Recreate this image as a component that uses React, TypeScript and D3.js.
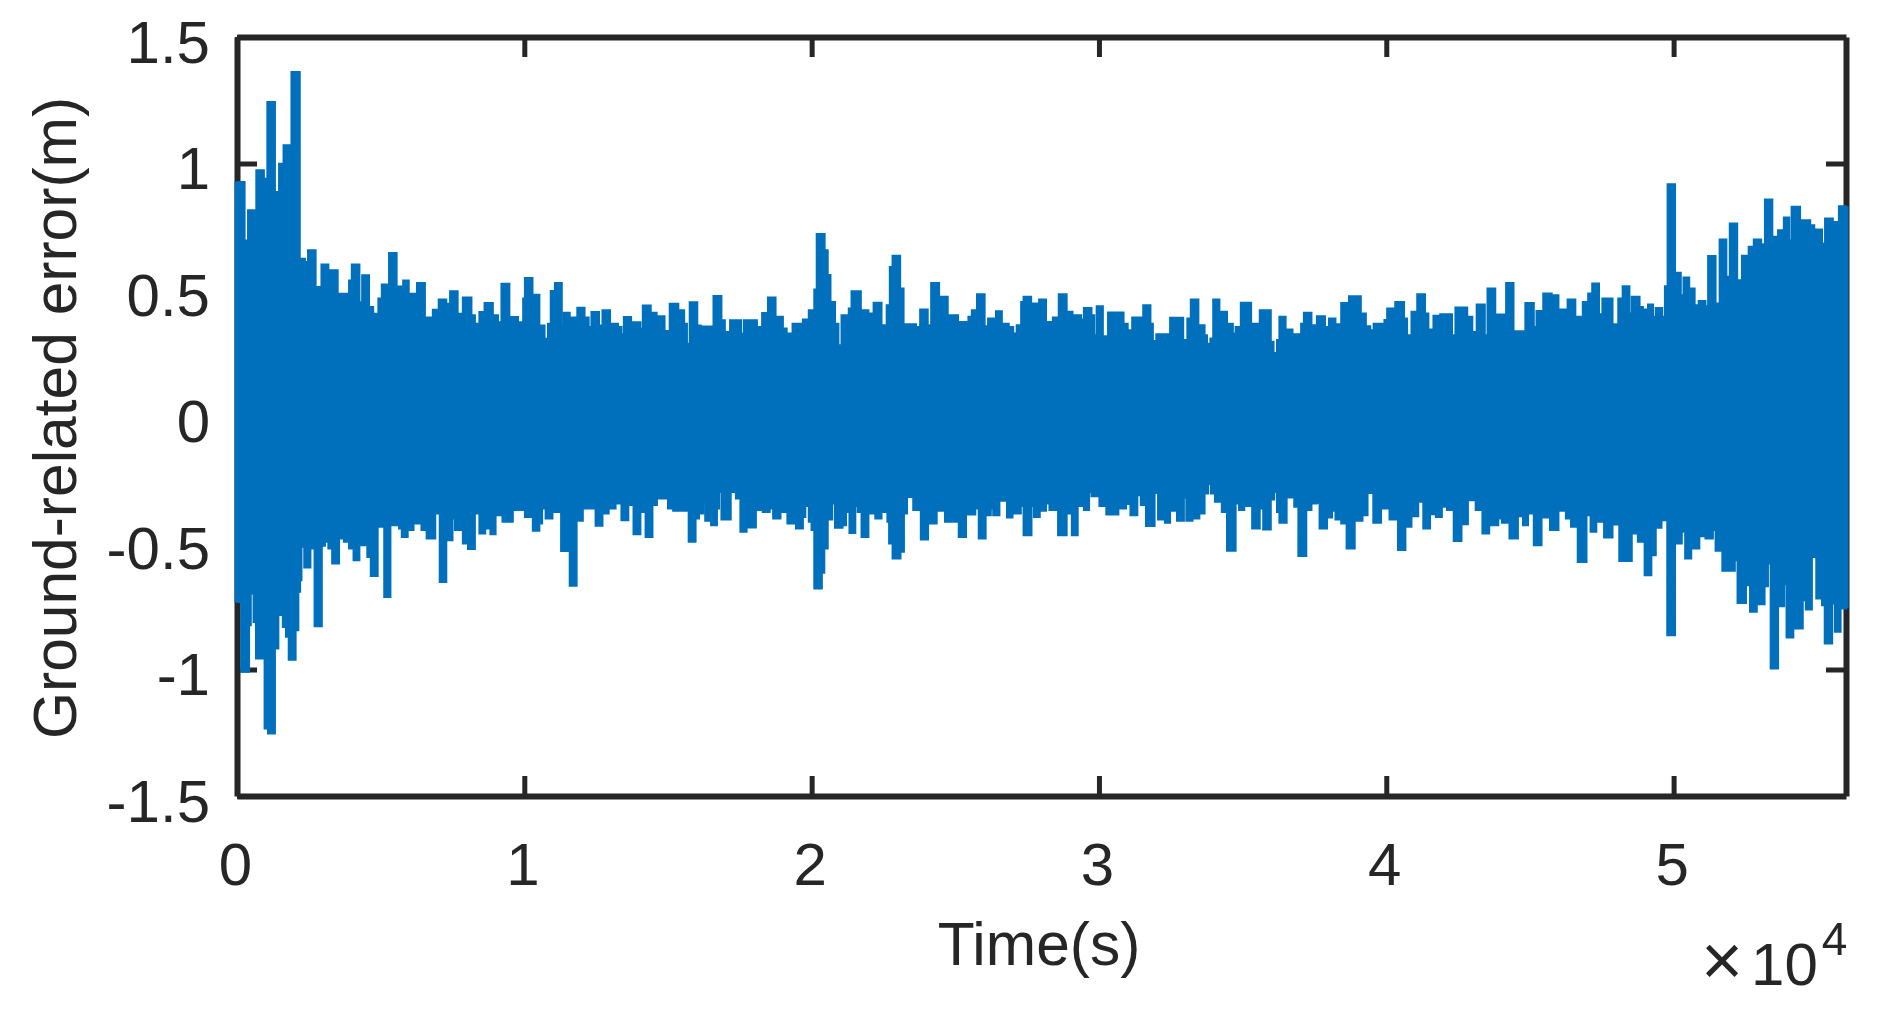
import * as d3 from 'd3';
import { useEffect, useRef } from 'react';

type Sample = [number, number];

const xTicks = [0, 10000, 20000, 30000, 40000, 50000];
const yTicks = [-1.5, -1, -0.5, 0, 0.5, 1, 1.5];
const timeEnd = 56000;

// outer edge of the signal, [time (s), error (m)]
const upperEarly: Sample[] = [
  [0, 0.927], [264, 0.696], [384, 0.815], [672, 0.973], [936, 0.94], [1056, 1.243], [1320, 0.887], [1464, 0.999],
  [1620, 1.072], [1896, 1.362], [2184, 0.624], [2364, 0.611], [2472, 0.657], [2736, 0.512], [2940, 0.601], [3180, 0.578],
  [3504, 0.485], [3900, 0.538], [3996, 0.601], [4260, 0.452], [4356, 0.558], [4596, 0.433], [4740, 0.406], [4920, 0.466],
  [5040, 0.522], [5292, 0.646], [5556, 0.514], [5784, 0.538], [5976, 0.485], [6264, 0.528], [6540, 0.391], [6816, 0.422],
  [7020, 0.462], [7284, 0.446], [7416, 0.495], [7680, 0.406], [7860, 0.47], [8160, 0.4], [8280, 0.367], [8436, 0.413],
  [8616, 0.449], [8904, 0.4], [9084, 0.373], [9204, 0.525], [9480, 0.393], [9780, 0.373], [9960, 0.466], [10020, 0.547],
  [10284, 0.481], [10524, 0.36], [10704, 0.307], [10824, 0.367], [10920, 0.496], [11064, 0.528], [11304, 0.354], [11376, 0.41],
  [11580, 0.391], [11844, 0.43], [12096, 0.391], [12240, 0.354], [12336, 0.413], [12600, 0.36], [12720, 0.42], [12984, 0.367],
  [13260, 0.354], [13380, 0.325], [13464, 0.393], [13716, 0.373], [14040, 0.347], [14124, 0.439], [14400, 0.41], [14604, 0.396],
  [14880, 0.338], [15060, 0.446], [15360, 0.42], [15564, 0.367], [15660, 0.288], [15756, 0.452], [16020, 0.36], [16140, 0.314],
  [16200, 0.356], [16584, 0.476], [16860, 0.38], [16980, 0.334], [17160, 0.38], [17544, 0.327], [17640, 0.38], [18096, 0.354],
  [18276, 0.409], [18480, 0.47], [18744, 0.391],
];

const upperMiddle: Sample[] = [
  [18800, 0.394], [19000, 0.348], [19132, 0.328], [19336, 0.367], [19696, 0.383], [19900, 0.42], [20092, 0.502], [20176, 0.721],
  [20452, 0.657], [20560, 0.559], [20656, 0.453], [20812, 0.367], [20932, 0.282], [21040, 0.4], [21292, 0.427], [21388, 0.495],
  [21712, 0.42], [21976, 0.407], [22156, 0.45], [22432, 0.361], [22612, 0.44], [22720, 0.591], [22816, 0.635], [23080, 0.506],
  [23200, 0.365], [23632, 0.354], [23776, 0.423], [24040, 0.361], [24160, 0.528], [24436, 0.473], [24736, 0.315], [24796, 0.4],
  [25096, 0.374], [25456, 0.394], [25576, 0.42], [25756, 0.483], [26020, 0.357], [26140, 0.387], [26416, 0.416], [26620, 0.367],
  [26860, 0.354], [27016, 0.328], [27136, 0.361], [27292, 0.453], [27376, 0.473], [27640, 0.447], [27916, 0.462], [28156, 0.374],
  [28396, 0.391], [28600, 0.483], [28876, 0.414], [29080, 0.4], [29380, 0.383], [29476, 0.429], [29740, 0.4], [29836, 0.321],
  [29920, 0.436], [30136, 0.317], [30316, 0.411], [30856, 0.367], [31000, 0.341], [31156, 0.391], [31540, 0.44], [31792, 0.367],
  [31876, 0.298], [31996, 0.325], [32476, 0.39], [32932, 0.302], [33076, 0.387], [33196, 0.462], [33460, 0.361], [33676, 0.321],
  [33760, 0.288], [33880, 0.308], [33976, 0.462], [34192, 0.414], [34456, 0.367], [34660, 0.328], [34756, 0.354], [34936, 0.45],
  [35296, 0.367], [35596, 0.42], [35980, 0.295], [36076, 0.251], [36196, 0.302], [36280, 0.394], [36496, 0.344], [36736, 0.325],
  [37036, 0.367], [37132, 0.41], [37396, 0.361],
];

const upperLate: Sample[] = [
  [37584, 0.396], [37866, 0.354], [38007, 0.387], [38231, 0.365], [38431, 0.449], [38701, 0.475], [39113, 0.407], [39289, 0.357],
  [39442, 0.341], [39560, 0.367], [39936, 0.381], [40030, 0.427], [40312, 0.453], [40618, 0.387], [40724, 0.321], [40877, 0.414],
  [41077, 0.483], [41347, 0.407], [41465, 0.344], [41641, 0.398], [41876, 0.404], [42288, 0.321], [42406, 0.431], [42817, 0.394],
  [42994, 0.334], [43146, 0.443], [43429, 0.321], [43523, 0.506], [43793, 0.403], [44170, 0.528], [44428, 0.337], [44840, 0.449],
  [45134, 0.354], [45228, 0.417], [45463, 0.486], [45757, 0.479], [45992, 0.423], [46310, 0.462], [46580, 0.394], [46839, 0.453],
  [47027, 0.486], [47168, 0.526], [47404, 0.404], [47521, 0.466], [47874, 0.365], [48074, 0.466], [48227, 0.515], [48462, 0.407],
  [48544, 0.473], [48815, 0.433], [48932, 0.423], [49108, 0.443], [49285, 0.394], [49379, 0.429], [49603, 0.394], [49697, 0.515],
  [49791, 0.918], [50050, 0.568], [50250, 0.479], [50344, 0.549], [50544, 0.506], [50732, 0.44], [50873, 0.457], [51108, 0.436],
  [51202, 0.634], [51461, 0.447], [51602, 0.7], [51837, 0.552], [51955, 0.763], [52213, 0.539], [52378, 0.635], [52613, 0.671],
  [52790, 0.7], [53048, 0.681], [53178, 0.858], [53436, 0.71], [53636, 0.736], [53836, 0.787], [54024, 0.697], [54107, 0.829],
  [54401, 0.776], [54754, 0.756], [54895, 0.69], [54965, 0.739], [55165, 0.684], [55271, 0.783], [55542, 0.769], [55753, 0.831],
  [56000, 0.831],
];

const lowerEarly: Sample[] = [
  [0, -0.733], [144, -1.009], [420, -0.825], [480, -0.7], [576, -0.812], [660, -0.957], [900, -0.845], [960, -1.233],
  [1080, -1.253], [1320, -0.917], [1440, -0.785], [1596, -0.832], [1704, -0.871], [1800, -0.961], [2040, -0.845], [2136, -0.693],
  [2196, -0.647], [2244, -0.515], [2340, -0.597], [2556, -0.522], [2700, -0.829], [2952, -0.511], [3060, -0.495], [3180, -0.522],
  [3312, -0.581], [3552, -0.482], [3720, -0.495], [3900, -0.522], [4056, -0.568], [4260, -0.449], [4320, -0.509], [4536, -0.555],
  [4656, -0.63], [4896, -0.436], [5124, -0.713], [5340, -0.43], [5640, -0.443], [5736, -0.476], [5940, -0.449], [6144, -0.423],
  [6420, -0.449], [6600, -0.482], [6900, -0.383], [7056, -0.654], [7284, -0.489], [7500, -0.403], [7584, -0.449], [7860, -0.502],
  [8040, -0.524], [8280, -0.383], [8436, -0.462], [8640, -0.443], [8820, -0.465], [9000, -0.39], [9240, -0.416], [9600, -0.37],
  [10020, -0.397], [10296, -0.452], [10524, -0.423], [10620, -0.364], [10740, -0.403], [10980, -0.377], [11280, -0.532], [11580, -0.669],
  [11820, -0.412], [12036, -0.364], [12480, -0.432], [12720, -0.383], [12936, -0.364], [13176, -0.344], [13380, -0.41], [13620, -0.35],
  [13740, -0.331], [13800, -0.465], [14040, -0.377], [14220, -0.476], [14460, -0.35], [14616, -0.324], [15000, -0.364], [15180, -0.373],
  [15720, -0.495], [15960, -0.403], [16080, -0.383], [16224, -0.337], [16296, -0.412], [16500, -0.43], [16704, -0.364], [16776, -0.298],
  [16860, -0.407], [17184, -0.298], [17364, -0.324], [17520, -0.456], [17736, -0.304], [17784, -0.439], [18060, -0.37], [18300, -0.377],
  [18540, -0.364], [18660, -0.403],
];

const lowerMiddle: Sample[] = [
  [18800, -0.403], [18916, -0.377], [19156, -0.423], [19456, -0.443], [19696, -0.397], [19780, -0.354], [19900, -0.416], [19996, -0.449],
  [20092, -0.68], [20356, -0.618], [20440, -0.522], [20560, -0.407], [20716, -0.344], [20812, -0.44], [21076, -0.43], [21196, -0.377],
  [21316, -0.46], [21520, -0.354], [21604, -0.377], [21736, -0.476], [21976, -0.383], [22216, -0.403], [22432, -0.377], [22636, -0.416],
  [22696, -0.502], [22816, -0.561], [23092, -0.535], [23212, -0.383], [23320, -0.318], [23536, -0.37], [23800, -0.486], [24052, -0.423],
  [24352, -0.373], [24640, -0.416], [25120, -0.476], [25372, -0.387], [25696, -0.364], [25816, -0.482], [26056, -0.39], [26236, -0.364],
  [26320, -0.39], [26536, -0.333], [26800, -0.399], [26992, -0.383], [27280, -0.354], [27376, -0.469], [27652, -0.354], [27736, -0.397],
  [27940, -0.373], [28156, -0.344], [28276, -0.37], [28576, -0.469], [28876, -0.383], [29056, -0.469], [29260, -0.354], [29476, -0.37],
  [29656, -0.298], [29740, -0.315], [30016, -0.354], [30256, -0.387], [30676, -0.364], [30940, -0.346], [31096, -0.39], [31336, -0.311],
  [31456, -0.35], [31636, -0.433], [31936, -0.302], [32056, -0.407], [32296, -0.42], [32476, -0.373], [32716, -0.412], [32956, -0.32],
  [33040, -0.412], [33256, -0.403], [33496, -0.383], [33676, -0.304], [33796, -0.267], [33892, -0.304], [34036, -0.337], [34276, -0.377],
  [34456, -0.531], [34756, -0.344], [34876, -0.37], [35056, -0.354], [35332, -0.443], [35596, -0.364], [35716, -0.447], [35980, -0.328],
  [36100, -0.298], [36196, -0.377], [36280, -0.42], [36532, -0.32], [36796, -0.357], [36940, -0.551], [37216, -0.37], [37396, -0.344],
];

const lowerLate: Sample[] = [
  [37584, -0.341], [37678, -0.443], [37937, -0.399], [38113, -0.373], [38231, -0.407], [38431, -0.423], [38619, -0.522], [38901, -0.412],
  [39172, -0.39], [39348, -0.302], [39548, -0.42], [39818, -0.364], [40112, -0.407], [40406, -0.528], [40665, -0.436], [40877, -0.394],
  [41112, -0.337], [41288, -0.443], [41524, -0.386], [41724, -0.397], [41935, -0.357], [42112, -0.37], [42347, -0.492], [42617, -0.426],
  [42841, -0.331], [43111, -0.37], [43346, -0.462], [43582, -0.43], [43899, -0.403], [44028, -0.42], [44287, -0.482], [44581, -0.394],
  [44758, -0.43], [44934, -0.383], [45134, -0.509], [45404, -0.399], [45698, -0.449], [45992, -0.373], [46251, -0.403], [46428, -0.436],
  [46663, -0.575], [46968, -0.39], [47110, -0.456], [47310, -0.416], [47580, -0.478], [47874, -0.427], [48109, -0.571], [48544, -0.462],
  [48756, -0.495], [48991, -0.627], [49226, -0.548], [49379, -0.44], [49579, -0.41], [49779, -0.865], [50050, -0.502], [50285, -0.456],
  [50402, -0.561], [50614, -0.522], [50896, -0.473], [51108, -0.482], [51367, -0.449], [51461, -0.531], [51696, -0.61], [52131, -0.568],
  [52225, -0.737], [52519, -0.667], [52660, -0.772], [52895, -0.742], [53166, -0.671], [53284, -0.581], [53378, -0.996], [53636, -0.75],
  [53848, -0.663], [53931, -0.874], [54166, -0.838], [54495, -0.726], [54601, -0.763], [54813, -0.555], [54965, -0.719], [55165, -0.746],
  [55259, -0.897], [55518, -0.739], [55612, -0.851], [55812, -0.759], [56000, -0.759],
];

const upperEnvelope = [...upperEarly, ...upperMiddle, ...upperLate];
const lowerEnvelope = [...lowerEarly, ...lowerMiddle, ...lowerLate];

const blue = '#0070BC';
const ink = '#262626';
const font = '"Liberation Sans", Arial, sans-serif';

const margin = { top: 37, right: 39, bottom: 217, left: 237 };
const width = 1885;
const height = 1013;

export default function App() {
  const ref = useRef<SVGSVGElement>(null);

  useEffect(() => {
    const root = d3.select(ref.current);
    root.selectAll('*').remove();

    // the reference is a soft, upscaled raster
    root
      .append('filter')
      .attr('id', 'soft')
      .attr('x', 0)
      .attr('y', 0)
      .attr('width', '100%')
      .attr('height', '100%')
      .attr('filterUnits', 'userSpaceOnUse')
      .append('feGaussianBlur')
      .attr('stdDeviation', 0.7);

    const svg = root.append('g').attr('filter', 'url(#soft)');

    const x = d3.scaleLinear([0, timeEnd], [margin.left, width - margin.right]);
    const y = d3.scaleLinear([-1.5, 1.5], [height - margin.bottom, margin.top]);

    const styleAxis = (g: any) => {
      g.select('.domain').attr('stroke', ink).attr('stroke-width', 6);
      g.selectAll('.tick line').attr('stroke', ink).attr('stroke-width', 5);
      g.selectAll('text').attr('fill', ink).attr('font-size', 60).attr('font-family', font);
    };

    svg
      .append('g')
      .attr('transform', `translate(0, ${y(-1.5)})`)
      .call(
        d3
          .axisBottom(x)
          .tickValues(xTicks)
          .tickSizeInner(-20)
          .tickSizeOuter(0)
          .tickPadding(46)
          .tickFormat((d) => `${+d / 10000}`)
      )
      .call(styleAxis)
      .call((g) => g.selectAll('text').attr('dy', '0.71em').attr('dx', -2));

    svg
      .append('g')
      .attr('transform', `translate(0, ${y(1.5)})`)
      .call(d3.axisTop(x).tickValues(xTicks).tickSizeInner(-20).tickSizeOuter(0).tickFormat(() => ''))
      .call(styleAxis);

    svg
      .append('g')
      .attr('transform', `translate(${x(0)}, 0)`)
      .call(
        d3
          .axisLeft(y)
          .tickValues(yTicks)
          .tickSizeInner(-20)
          .tickSizeOuter(0)
          .tickPadding(27)
          .tickFormat((d) => `${d}`)
      )
      .call(styleAxis)
      .call((g) => g.selectAll('text').attr('dy', '0.42em'));

    svg
      .append('g')
      .attr('transform', `translate(${x(timeEnd)}, 0)`)
      .call(d3.axisRight(y).tickValues(yTicks).tickSizeInner(-20).tickSizeOuter(0).tickFormat(() => ''))
      .call(styleAxis);

    // the signal sits on top of the box, as in the original figure
    const band = d3
      .area<Sample>()
      .x((d) => x(d[0]))
      .y0(y(0))
      .y1((d) => y(d[1]))
      .curve(d3.curveStepAfter);

    [upperEnvelope, lowerEnvelope].forEach((envelope) =>
      svg
        .append('path')
        .attr('d', band(envelope))
        .attr('fill', blue)
        .attr('stroke', blue)
        .attr('stroke-width', 2)
    );

    // first and last swing, these are as wide as the plotted line
    const swing = d3
      .line<Sample>()
      .x((d) => x(d[0]))
      .y((d) => y(d[1]));

    [
      [upperEnvelope[0], lowerEnvelope[0]],
      [upperEnvelope[upperEnvelope.length - 1], lowerEnvelope[lowerEnvelope.length - 1]],
    ].forEach((ends) =>
      svg.append('path').attr('d', swing(ends)).attr('stroke', blue).attr('stroke-width', 5).attr('fill', 'none')
    );

    const label = svg
      .append('g')
      .attr('fill', ink)
      .attr('font-family', font)
      .attr('font-size', 60);

    label
      .append('text')
      .attr('x', 1039)
      .attr('y', 965)
      .attr('font-size', 60.5)
      .attr('text-anchor', 'middle')
      .text('Time(s)');

    label
      .append('text')
      .attr('transform', 'translate(76, 418) rotate(-90)')
      .attr('font-size', 60.5)
      .attr('text-anchor', 'middle')
      .text('Ground-related error(m)');

    const exponent = label.append('text').attr('x', 1701).attr('y', 985);
    exponent.append('tspan').attr('font-size', 72).text('×');
    exponent.append('tspan').attr('dx', 8).text('10');
    exponent.append('tspan').attr('font-size', 46).attr('dx', 4).attr('dy', -30).text('4');
  }, []);

  return (
    <svg
      ref={ref}
      width={width}
      height={height}
      style={{ position: 'absolute', left: 0, top: 0, background: '#fff' }}
    />
  );
}
